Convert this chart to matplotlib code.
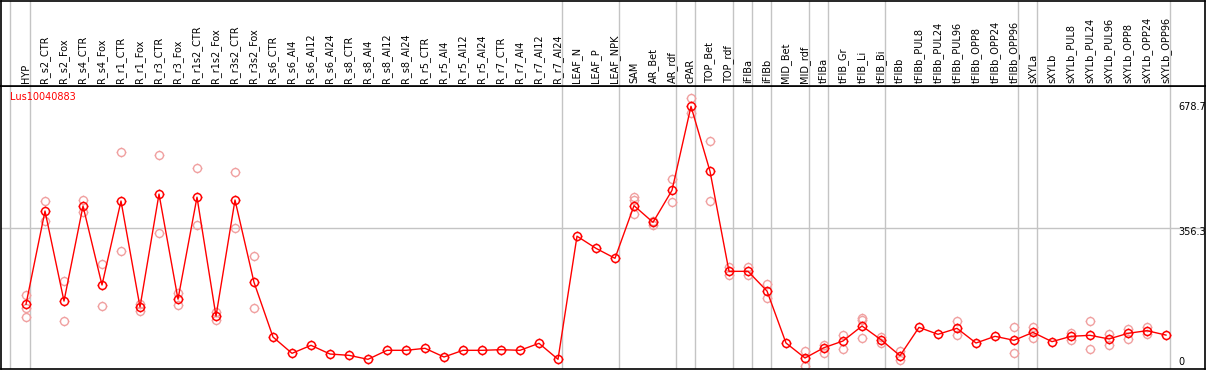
import numpy as np
import matplotlib
matplotlib.use("Agg")
import matplotlib.pyplot as plt
from matplotlib.path import Path
import matplotlib.transforms as mtransforms

plt.rcParams['font.family'] = ['DejaVu Sans']

categories = ["HYP", "R_s2_CTR", "R_s2_Fox", "R_s4_CTR", "R_s4_Fox", "R_r1_CTR", "R_r1_Fox",
              "R_r3_CTR", "R_r3_Fox", "R_r1s2_CTR", "R_r1s2_Fox", "R_r3s2_CTR", "R_r3s2_Fox",
              "R_s6_CTR", "R_s6_Al4", "R_s6_Al12", "R_s6_Al24", "R_s8_CTR", "R_s8_Al4", "R_s8_Al12",
              "R_s8_Al24", "R_r5_CTR", "R_r5_Al4", "R_r5_Al12", "R_r5_Al24", "R_r7_CTR", "R_r7_Al4",
              "R_r7_Al12", "R_r7_Al24", "LEAF_N", "LEAF_P", "LEAF_NPK", "SAM", "AR_Bet", "AR_rdf",
              "cPAR", "TOP_Bet", "TOP_rdf", "iFIBa", "iFIBb", "MID_Bet", "MID_rdf", "tFIBa",
              "tFIB_Gr", "tFIB_Li", "tFIB_Bi", "tFIBb", "tFIBb_PUL8", "tFIBb_PUL24", "tFIBb_PUL96",
              "tFIBb_OPP8", "tFIBb_OPP24", "tFIBb_OPP96", "sXYLa", "sXYLb", "sXYLb_PUL8",
              "sXYLb_PUL24", "sXYLb_PUL96", "sXYLb_OPP8", "sXYLb_OPP24", "sXYLb_OPP96"]

mean_values = [159.7, 401, 168, 414, 209.6, 427, 152.7, 445, 173, 437, 129, 429.6, 216.6,
               75, 32.8, 53.5, 31, 27.6, 17.3, 40.6, 40.6, 45.8, 23.3, 40.6, 40.6, 42.2, 40.6,
               58.7, 17.3, 336, 304.5, 278.7, 415, 371.8, 454.6, 672, 504, 245, 245, 194,
               59.5, 20.7, 47.4, 64.7, 103.5, 68, 26.7, 100, 82, 97.5, 59.5, 76.8, 66.5,
               87, 63, 76.8, 79.4, 70, 84.6, 91.4, 80]

nan = float('nan')
rep_high = [183.7, 427, 219, 429.6, 264, 553, 159.7, 545, 189, 511.6, 140.6, 501, 284.7,
            nan, nan, nan, nan, nan, nan, nan, nan, nan, nan, nan, nan, nan, nan, nan, nan,
            nan, nan, nan, 438, 376, 483, 692.8, 582, 255.4, 257, 212,
            nan, 38.8, 54.3, 80, 125, 75.8, 39.6, nan, nan, 116.5, nan, nan, 101,
            101.7, nan, 86, 116.5, 82.8, 96.5, 101.7, nan]
rep_low = [127.6, 375, 116, 399, 155, 297.6, 143, 343, 157, 364, 119, 356, 149,
           nan, nan, nan, nan, nan, nan, nan, nan, nan, nan, nan, nan, nan, nan, nan, nan,
           nan, nan, nan, 392.6, 365, 423.6, 654, 427, 235.5, 235.5, 175,
           nan, 0.8, 32.8, 43, 71.7, 60.3, 14.7, nan, nan, 79.4, nan, nan, 33.6,
           73, nan, 67.3, 44, 55, 70.7, 82, nan]
rep_mid = [149, nan, nan, nan, nan, nan, nan, nan, nan, nan, nan, nan, nan,
           nan, nan, nan, nan, nan, nan, nan, nan, nan, nan, nan, nan, nan, nan, nan, nan,
           nan, nan, nan, 429.6, nan, nan, nan, nan, nan, nan, nan,
           nan, nan, nan, nan, 119, nan, nan, nan, nan, nan, nan, nan, nan,
           nan, nan, nan, nan, nan, nan, nan, nan]

group_ends = [0, 28, 31, 34, 35, 37, 38, 39, 41, 42, 45, 52, 53, 60]
y_tick_values = [678.7, 356.3, 0]
y_tick_labels = ["678.7", "356.3", "0"]
title = "Lus10040883"

W, H = 1209, 370
fig = plt.figure(figsize=(W / 100, H / 100), dpi=100)

# pixel geometry
x0_px, dx_px = 26.0, 19.0
y0_px, upp = 366.0, 2.588
left_px, right_px = 1.0, 1205.0
top_px, bot_px = 85.7, 369.0

xl = ((left_px - x0_px) / dx_px, (right_px - x0_px) / dx_px)
yl = ((y0_px - bot_px) * upp, (y0_px - top_px) * upp)

ax = fig.add_axes([left_px / W, (H - bot_px) / H, (right_px - left_px) / W, (bot_px - top_px) / H])
hax = fig.add_axes([left_px / W, (H - top_px) / H, (right_px - left_px) / W, (top_px - 0.6) / H])

for a in (ax, hax):
    a.set_xlim(*xl)
    a.set_xticks([])
    a.set_yticks([])
    for s in a.spines.values():
        s.set_color('black')
        s.set_linewidth(1.2)
ax.set_ylim(*yl)
hax.set_ylim(0, 1)

grid_c = '#c4c4c4'
seps = [-0.83] + [g + 0.23 for g in group_ends]
for sx in seps:
    ax.axvline(sx, color=grid_c, lw=1.0, zorder=0)
    hax.axvline(sx, color=grid_c, lw=1.0, zorder=0)
ax.axhline(356.3, color=grid_c, lw=1.0, zorder=0)

# marker: circle with four tiny ticks
circ = Path.unit_circle()
verts = list(circ.vertices)
codes = list(circ.codes)
for (a0, b0), (a1, b1) in [((0, 1), (0, 1.22)), ((0, -1), (0, -1.22)),
                           ((1, 0), (1.22, 0)), ((-1, 0), (-1.22, 0))]:
    verts += [(a0, b0), (a1, b1)]
    codes += [Path.MOVETO, Path.LINETO]
mk = Path(np.array(verts), codes)
msize = 7.0

xs = np.arange(len(categories))
for reps in (rep_high, rep_low, rep_mid):
    r = np.array(reps, dtype=float)
    ok = ~np.isnan(r)
    ax.plot(xs[ok], r[ok], linestyle='none', marker=mk, markersize=msize,
            markerfacecolor='none', markeredgecolor='#f0a0a0', markeredgewidth=1.0, zorder=2)

ax.plot(xs, mean_values, color='#ff0000', lw=1.0, marker=mk, markersize=msize,
        markerfacecolor='none', markeredgecolor='#ff0000', markeredgewidth=1.1, zorder=3)

# y labels on the right, inside the plot
lab_x = (1178 - x0_px) / dx_px
offsets_px = [3.4, 3.4, -4.0]
for v, t, o in zip(y_tick_values, y_tick_labels, offsets_px):
    ax.text(lab_x, v - o * upp, t, fontsize=7, ha='left', va='center', color='black')

ax.text((10 - x0_px) / dx_px, (y0_px - 97) * upp, title, color='#ff0000', fontsize=7,
        ha='left', va='center')

trans = mtransforms.blended_transform_factory(hax.transData, hax.transAxes)
for i, c in enumerate(categories):
    hax.text(i, 2.7 / top_px, c, rotation=90, ha='center', va='bottom', fontsize=7,
             transform=trans, color='black')

fig.savefig('out.png', dpi=100)
